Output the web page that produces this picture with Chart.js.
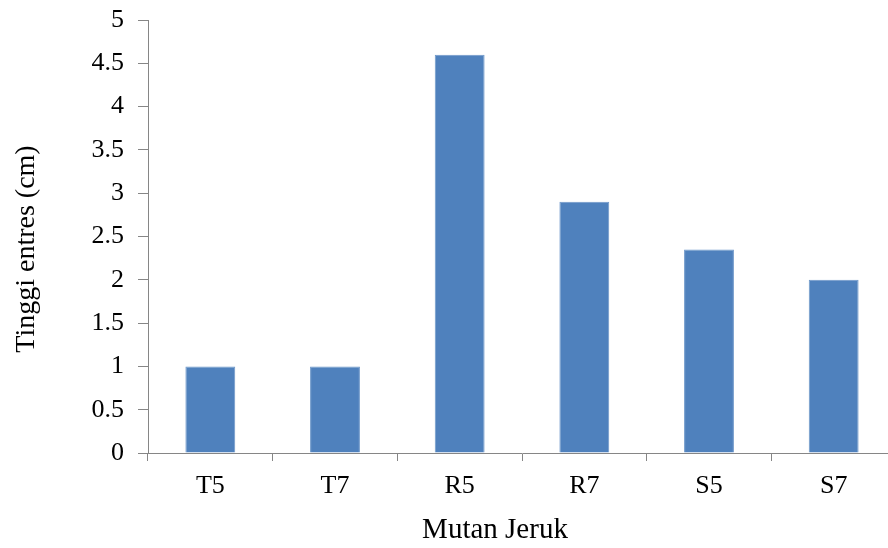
<!DOCTYPE html>
<html>
<head>
<meta charset="utf-8">
<script src="https://cdn.jsdelivr.net/npm/chart.js@4"></script>
<style>
  html, body { margin: 0; padding: 0; background: #fff; overflow: hidden; }
  #wrap { width: 910px; height: 548px; }
</style>
</head>
<body>
<div id="wrap"><canvas id="chart" width="910" height="548"></canvas></div>
<script>
  // Mutan Jeruk vs tinggi entres
  const categories = ["T5", "T7", "R5", "R7", "S5", "S7"];
  const tinggi = [1, 1, 4.6, 2.9, 2.35, 2.0];
  const yTicks = [0, 0.5, 1, 1.5, 2, 2.5, 3, 3.5, 4, 4.5, 5];
  const xTitle = "Mutan Jeruk";
  const yTitle = "Tinggi entres (cm)";

  const fontFamily = "'Liberation Serif', 'Times New Roman', serif";
  const axisColor = "#868686";

  // axis titles drawn by hand so they sit where the original ones do
  const axisTitles = {
    id: "axisTitles",
    afterDraw: function (chart) {
      const c = chart.ctx;
      c.save();
      c.fillStyle = "#000";
      c.textAlign = "center";
      c.textBaseline = "middle";
      c.font = "29px " + fontFamily;
      c.fillText(xTitle, 495, 530);
      c.translate(27, 249);
      c.rotate(-Math.PI / 2);
      c.font = "28px " + fontFamily;
      c.fillText(yTitle, 0, 0);
      c.restore();
    },
  };

  const ctx = document.getElementById("chart");
  const config = {
    type: "bar",
    data: {
      labels: categories,
      datasets: [
        {
          label: "Tinggi entres",
          data: tinggi,
          backgroundColor: "#4F81BD",
          borderColor: "#6d97c9",
          borderWidth: 1,
          barPercentage: 0.4,
          categoryPercentage: 1,
        },
      ],
    },
    options: {
      responsive: false,
      animation: false,
      layout: { padding: { top: 0, right: 14, left: 0, bottom: 0 } },
      plugins: { legend: { display: false }, tooltip: { enabled: false } },
      scales: {
        x: {
          grid: { drawOnChartArea: false, color: axisColor, tickLength: 8, offset: true },
          border: { color: axisColor },
          ticks: { color: "#000", font: { family: fontFamily, size: 26 }, padding: 10 },
          afterFit: function (scale) { scale.height = 95; },
        },
        y: {
          min: 0,
          max: 5,
          afterBuildTicks: function (scale) {
            scale.ticks = yTicks.map(function (v) { return { value: v }; });
          },
          grid: { drawOnChartArea: false, color: axisColor, tickLength: 10 },
          border: { color: axisColor },
          ticks: {
            color: "#000",
            font: { family: fontFamily, size: 26, lineHeight: 1 },
            padding: 14,
            callback: function (v) { return String(v); },
          },
          afterFit: function (scale) {
            scale.width = 148;
            scale.paddingTop = 20;
            scale.paddingBottom = 0;
          },
        },
      },
    },
    plugins: [axisTitles],
  };
  var myChart = new Chart(ctx, config);
</script>
</body>
</html>
